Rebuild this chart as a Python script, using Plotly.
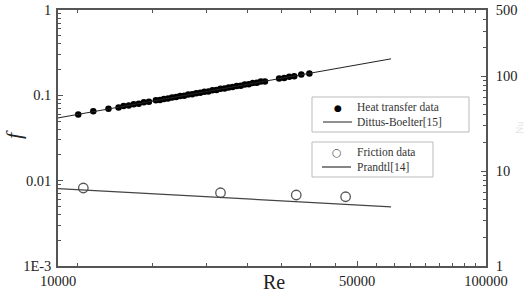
import plotly.graph_objects as go

# ---- data ----
heat_re = [11150, 12090, 13120, 13850, 14230, 14630, 15030, 15440, 15870, 16310,
           16930, 17310, 17680, 18070, 18470, 18880, 19290, 19720, 20150, 20590,
           21040, 21500, 21980, 22460, 22950, 23460, 23970, 24500, 25040, 25590,
           26150, 26730, 27310, 27910, 28530, 29150, 29790, 30450,
           32860, 33760, 34690, 35640, 37020, 38670]
heat_nu = [39.5, 42.8, 45.6, 47.0, 48.6, 49.3, 50.8, 51.4, 53.1, 53.8,
           55.9, 56.3, 57.8, 58.3, 59.9, 60.4, 62.0, 62.5, 64.2, 64.7,
           66.4, 67.0, 68.8, 69.3, 71.3, 71.8, 73.8, 74.3, 76.4, 76.9,
           79.1, 79.6, 82.0, 82.4, 84.9, 85.3, 87.9, 88.4,
           95.0, 96.1, 99.2, 100.3, 104.4, 107.0]

db_re = [10000, 60000]
db_nu = [36.4, 152.8]

fric_re = [11460, 23970, 36030, 46990]
fric_f = [0.0082, 0.00722, 0.00679, 0.00648]

prandtl_re = [10000, 24100, 35800, 60000]
prandtl_f = [0.00805, 0.00636, 0.0057, 0.00494]

x_tick_vals = [10000, 50000, 100000]
x_tick_text = ["10000", "50000", "100000"]
x_minor_ticks = [11111, 16667, 22222, 27778, 33333, 38889, 44444,
                 55556, 61111, 66667, 72222, 77778, 83333, 88889, 94444]
yl_tick_vals = [0.001, 0.01, 0.1, 1]
yl_tick_text = ["1E-3", "0.01", "0.1", "1"]
yr_tick_vals = [1, 10, 100, 500]
yr_tick_text = ["1", "10", "100", "500"]

legend1_labels = ["Heat transfer data", "Dittus-Boelter[15]"]
legend2_labels = ["Friction data", "Prandtl[14]"]

def log_minors(lo_exp, hi_exp, top=None):
    vals = []
    for e in range(lo_exp, hi_exp):
        for m in range(2, 10):
            v = m * 10 ** e
            if top is None or v < top:
                vals.append(v)
    return vals

yl_minor = log_minors(-3, 0)
yr_minor = log_minors(0, 3, top=500)

SERIF = "Liberation Serif, Times New Roman, serif"
AX = "#555555"
TICK_FONT = dict(size=14.5, family=SERIF)

# plot area in pixels (for legend / title placement)
W, H = 527, 295
ML, MR, MT, MB = 58, 41, 10, 29
PW, PH = W - ML - MR, H - MT - MB

def px(x):
    return (x - ML) / PW

def py(y):
    return (H - MB - y) / PH

fig = go.Figure()
fig.add_trace(go.Scatter(x=heat_re, y=heat_nu, mode="markers", yaxis="y2",
                         name=legend1_labels[0], showlegend=False,
                         marker=dict(color="black", size=6.5, symbol="circle")))
fig.add_trace(go.Scatter(x=db_re, y=db_nu, mode="lines", yaxis="y2",
                         name=legend1_labels[1], showlegend=False,
                         line=dict(color="#222222", width=1)))
fig.add_trace(go.Scatter(x=fric_re, y=fric_f, mode="markers", yaxis="y",
                         name=legend2_labels[0], showlegend=False,
                         marker=dict(color="#555555", size=9.5, symbol="circle-open",
                                     line=dict(width=1.3))))
fig.add_trace(go.Scatter(x=prandtl_re, y=prandtl_f, mode="lines", yaxis="y",
                         name=legend2_labels[1], showlegend=False,
                         line=dict(color="#444444", width=1.3)))

shapes = []
annotations = []
LEG_FONT = dict(size=11.5, family=SERIF, color="#333333")
BORDER = "#bbbbbb"

# legend boxes
shapes.append(dict(type="rect", xref="paper", yref="paper",
                   x0=px(312), x1=px(469), y0=py(132), y1=py(97),
                   line=dict(color=BORDER, width=1), fillcolor="white", layer="above"))
shapes.append(dict(type="rect", xref="paper", yref="paper",
                   x0=px(312), x1=px(433), y0=py(177), y1=py(142),
                   line=dict(color=BORDER, width=1), fillcolor="white", layer="above"))
# legend line glyphs
shapes.append(dict(type="line", xref="paper", yref="paper",
                   x0=px(323), x1=px(352), y0=py(122), y1=py(122),
                   line=dict(color="#222222", width=1), layer="above"))
shapes.append(dict(type="line", xref="paper", yref="paper",
                   x0=px(322), x1=px(351), y0=py(167), y1=py(167),
                   line=dict(color="#444444", width=1.3), layer="above"))
# legend symbol glyphs
annotations.append(dict(text="●", xref="paper", yref="paper", x=px(338), y=py(107.5),
                        showarrow=False, xanchor="center", yanchor="middle",
                        font=dict(size=9, color="black", family="DejaVu Sans")))
annotations.append(dict(text="○", xref="paper", yref="paper", x=px(337), y=py(152.5),
                        showarrow=False, xanchor="center", yanchor="middle",
                        font=dict(size=11, color="#555555", family="DejaVu Sans")))
# legend texts (one block per box)
annotations.append(dict(text="<br>".join(legend1_labels), xref="paper", yref="paper",
                        x=px(355), y=py(114.5), showarrow=False, align="left",
                        xanchor="left", yanchor="middle", font=LEG_FONT))
annotations.append(dict(text="<br>".join(legend2_labels), xref="paper", yref="paper",
                        x=px(355), y=py(159.5), showarrow=False, align="left",
                        xanchor="left", yanchor="middle", font=LEG_FONT))
# axis titles
annotations.append(dict(text="Re", xref="paper", yref="paper", x=px(274), y=py(295),
                        showarrow=False, xanchor="center", yanchor="bottom",
                        font=dict(size=20, family=SERIF, color="#222222")))
annotations.append(dict(text="<i>f</i>", xref="paper", yref="paper", x=px(13), y=py(135),
                        textangle=-90, showarrow=False, xanchor="center", yanchor="middle",
                        font=dict(size=22, family=SERIF, color="#222222")))
# faint right-axis title (barely visible in the reference)
annotations.append(dict(text="Nu", xref="paper", yref="paper", x=px(519), y=py(128),
                        textangle=-90, showarrow=False, xanchor="center", yanchor="middle",
                        font=dict(size=10, family=SERIF, color="#e4e4e4")))

fig.update_layout(
    width=W, height=H,
    margin=dict(l=ML, r=MR, t=MT, b=MB, autoexpand=False),
    paper_bgcolor="white", plot_bgcolor="white",
    font=dict(family=SERIF, color="#222222", size=15),
    showlegend=False,
    xaxis=dict(type="log", range=[4, 5], showline=True, linecolor=AX, linewidth=1.5,
               mirror="ticks", ticks="inside", ticklen=5, tickcolor=AX,
               tickmode="array", tickvals=x_tick_vals, ticktext=x_tick_text,
               showgrid=False, zeroline=False, automargin=False, ticklabelstandoff=1,
               minor=dict(tickmode="array", tickvals=x_minor_ticks, ticks="inside",
                          ticklen=3, tickcolor=AX, showgrid=False),
               tickfont=TICK_FONT),
    yaxis=dict(type="log", range=[-3, 0], showline=True, linecolor=AX, linewidth=1.5,
               ticks="inside", ticklen=5, tickcolor=AX,
               tickmode="array", tickvals=yl_tick_vals, ticktext=yl_tick_text,
               showgrid=False, zeroline=False, automargin=False, ticklabelstandoff=2,
               minor=dict(tickmode="array", tickvals=yl_minor, ticks="inside",
                          ticklen=3, tickcolor=AX, showgrid=False),
               tickfont=TICK_FONT),
    yaxis2=dict(type="log", range=[0, 2.69897], overlaying="y", side="right",
                showline=True, linecolor=AX, linewidth=1.5,
                ticks="inside", ticklen=5, tickcolor=AX,
                tickmode="array", tickvals=yr_tick_vals, ticktext=yr_tick_text,
                showgrid=False, zeroline=False, automargin=False, ticklabelstandoff=5,
                minor=dict(tickmode="array", tickvals=yr_minor, ticks="inside",
                           ticklen=3, tickcolor=AX, showgrid=False),
                tickfont=TICK_FONT),
    shapes=shapes,
    annotations=annotations,
)

fig.write_html("out.html")
